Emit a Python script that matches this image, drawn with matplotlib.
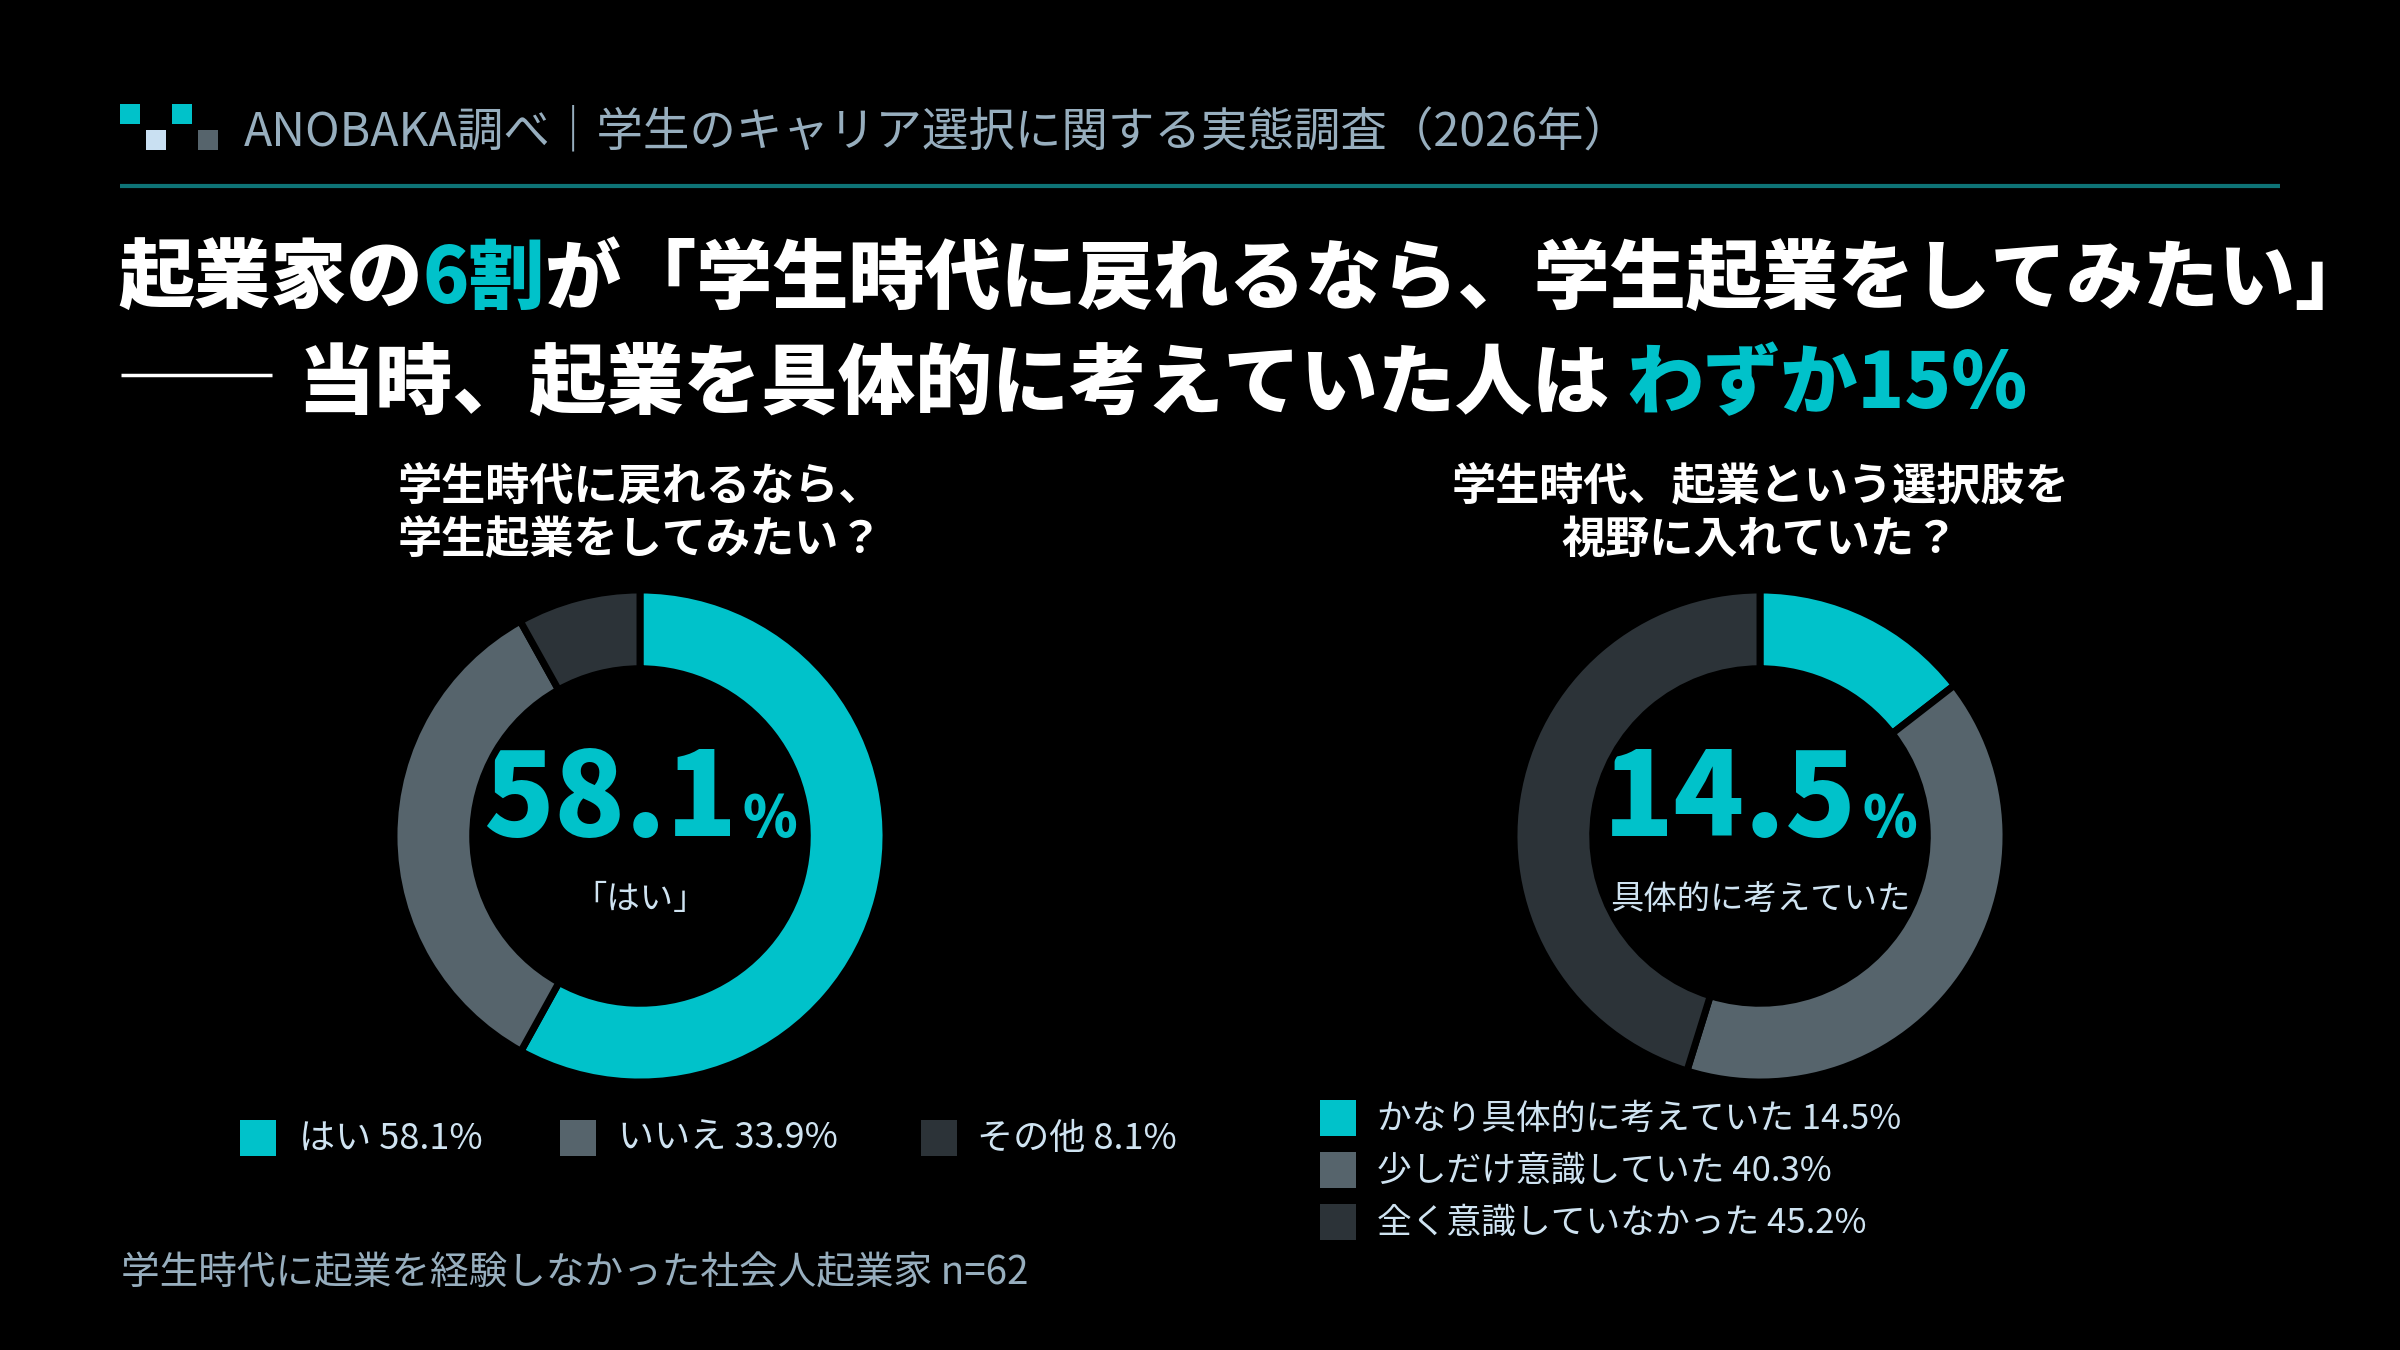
import matplotlib
matplotlib.use("Agg")
import matplotlib.pyplot as plt
from matplotlib.patches import Rectangle

plt.rcParams['font.family'] = ['Noto Sans CJK JP', 'DejaVu Sans']

# data
q1_labels = ['はい', 'いいえ', 'その他']
q1_values = [58.1, 33.9, 8.1]
q2_labels = ['かなり具体的に考えていた', '少しだけ意識していた', '全く意識していなかった']
q2_values = [14.5, 40.3, 45.2]
q1_center_label = '「はい」'
q2_center_label = '具体的に考えていた'
q1_title = '学生時代に戻れるなら、\n学生起業をしてみたい？'
q2_title = '学生時代、起業という選択肢を\n視野に入れていた？'
header = 'ANOBAKA調べ｜学生のキャリア選択に関する実態調査（2026年）'
footer = '学生時代に起業を経験しなかった社会人起業家 n=62'

CYAN = '#00C2CA'
GRAY = '#56646C'
DARK = '#2C3338'
LIGHT = '#CFE3F1'
MUTED = '#97AEBE'
colors = [CYAN, GRAY, DARK]

W, H = 2400, 1350
fig = plt.figure(figsize=(24, 13.5), dpi=100, facecolor='black')
ax = fig.add_axes([0, 0, 1, 1])
ax.set_xlim(0, W)
ax.set_ylim(H, 0)
ax.axis('off')
ax.set_facecolor('black')
renderer = fig.canvas.get_renderer()


def seq_text(x, y, parts, **kw):
    # draw text pieces one after another on one line
    for s, c in parts:
        t = ax.text(x, y, s, color=c, ha='left', va='baseline', **kw)
        bb = t.get_window_extent(renderer)
        x += bb.width
    return x


# logo
for (lx, ly, c) in [(120, 104, CYAN), (172, 104, CYAN), (146, 130, '#C9E0F2'), (198, 130, GRAY)]:
    ax.add_patch(Rectangle((lx, ly), 20, 20, color=c, lw=0))
ax.text(244, 145, header, color=MUTED, fontsize=33.5, ha='left', va='baseline')
ax.plot([120, 2280], [186, 186], color='#0E7376', lw=3, solid_capstyle='butt')

# headline
seq_text(118, 303, [('起業家の', 'white'), ('6割', CYAN),
                    ('が「学生時代に戻れるなら、学生起業をしてみたい」', 'white')],
         fontsize=54.8, fontweight='black')
ax.plot([121, 272], [375, 375], color='white', lw=2.5, solid_capstyle='butt')
seq_text(298, 408, [('当時、起業を具体的に考えていた人は ', 'white'), ('わずか15%', CYAN)],
         fontsize=55.5, fontweight='black')


def donut(cx, cy, r, values, big, label, title):
    dax = fig.add_axes([(cx - r) / W, (H - cy - r) / H, 2 * r / W, 2 * r / H])
    dax.pie(values, colors=colors, startangle=90, counterclock=False, radius=1,
            wedgeprops=dict(width=0.32, edgecolor='black', linewidth=5))
    dax.set_xlim(-1, 1)
    dax.set_ylim(-1, 1)
    dax.set_aspect('equal')
    dax.axis('off')
    # big number centred with small %
    t1 = ax.text(0, 0, f'{big}', fontsize=84, fontweight='black', color=CYAN,
                 ha='left', va='baseline')
    t2 = ax.text(0, 0, '%', fontsize=40, fontweight='black', color=CYAN,
                 ha='left', va='baseline')
    w1 = t1.get_window_extent(renderer).width
    w2 = t2.get_window_extent(renderer).width
    x0 = cx - (w1 + w2 + 6) / 2
    t1.set_position((x0, cy))
    t2.set_position((x0 + w1 + 6, cy))
    ax.text(cx, cy + 64, label, fontsize=24, color=LIGHT, ha='center', va='center')
    ax.text(cx, 514, title, fontsize=31.8, fontweight='bold', color='white',
            ha='center', va='center', linespacing=1.25)


donut(640, 836, 246, q1_values, q1_values[0], q1_center_label, q1_title)
donut(1760, 836, 246, q2_values, q2_values[0], q2_center_label, q2_title)

# legend left (one row)
for lx, tx, lab, v, c in zip([240, 560, 921], [299, 618, 977], q1_labels, q1_values, colors):
    ax.add_patch(Rectangle((lx, 1120), 36, 36, color=c, lw=0))
    ax.text(tx, 1139, f'{lab} {v}%', fontsize=26, color=LIGHT, ha='left', va='center')

# legend right (stacked)
for i, (lab, v, c) in enumerate(zip(q2_labels, q2_values, colors)):
    y = 1118 + 52 * i
    ax.add_patch(Rectangle((1320, y - 18), 36, 36, color=c, lw=0))
    ax.text(1377, y + 1, f'{lab} {v}%', fontsize=25, color=LIGHT, ha='left', va='center')

ax.text(121, 1274, footer, fontsize=27.8, color=MUTED, ha='left', va='center')

fig.savefig('out.png', dpi=100, facecolor='black')
